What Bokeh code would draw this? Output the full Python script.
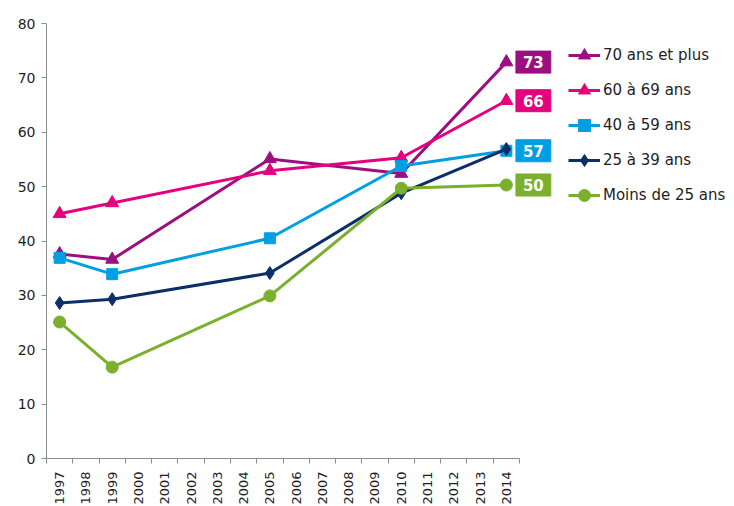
import math
from bokeh.plotting import figure
from bokeh.models import (Range1d, LinearAxis, FixedTicker, Legend, LegendItem, Label)
from bokeh.embed import file_html
from bokeh.resources import INLINE

years = [str(y) for y in range(1997, 2015)]
data_years = ["1997", "1999", "2005", "2010", "2014"]

series_names = ["70 ans et plus", "60 à 69 ans", "40 à 59 ans", "25 à 39 ans", "Moins de 25 ans"]
v_70plus = [37.6, 36.6, 55.1, 52.4, 72.9]
v_60_69 = [45.0, 47.0, 52.9, 55.3, 65.8]
v_40_59 = [36.9, 33.9, 40.5, 53.8, 56.6]
v_25_39 = [28.6, 29.3, 34.1, 48.8, 56.9]
v_moins25 = [25.1, 16.8, 29.9, 49.7, 50.3]

label_texts = ["73", "66", "57", None, "50"]

y_ticks = [0, 10, 20, 30, 40, 50, 60, 70, 80]

colors = ["#9C0F80", "#E5007E", "#009FE3", "#0B2F66", "#7AB02C"]
markers = ["triangle", "triangle", "square", "diamond", "circle"]
msizes = [13, 13, 11, 13, 12]
values = [v_70plus, v_60_69, v_40_59, v_25_39, v_moins25]

FONT = "DejaVu Sans"
AXIS_COLOR = "#8C8C8C"
TEXT_COLOR = "#1E1E1E"

# layout: axis area is 473 px wide, frame continues to the right for legend/labels
AXIS_W = 473
FRAME_W = 688
FRAME_H = 435

cat_pos = list(range(len(years)))
data_x = [years.index(y) for y in data_years]
x_start = -0.5
x_axis_end = len(years) - 0.5
x_end = x_start + len(years) * FRAME_W / AXIS_W

p = figure(x_range=Range1d(x_start, x_end),
           y_range=Range1d(0, 80),
           frame_width=FRAME_W, frame_height=FRAME_H,
           min_border_left=46, min_border_top=23, min_border_right=0, min_border_bottom=0,
           output_backend="svg", toolbar_location=None,
           x_axis_location=None, y_axis_location=None)
p.outline_line_color = None
p.xgrid.visible = False
p.ygrid.visible = False
p.background_fill_color = "white"
p.border_fill_color = "white"

# Y axis
yax = LinearAxis(ticker=FixedTicker(ticks=y_ticks))
yax.axis_line_color = AXIS_COLOR
yax.major_tick_line_color = AXIS_COLOR
yax.major_tick_out = 5
yax.major_tick_in = 0
yax.minor_tick_out = 0
yax.minor_tick_in = 0
yax.major_label_standoff = 6
yax.major_label_text_font = FONT
yax.major_label_text_font_size = "14px"
yax.major_label_text_color = TEXT_COLOR
p.add_layout(yax, "left")

# X axis: labels at category centres, ticks on category boundaries
xax = LinearAxis(ticker=FixedTicker(ticks=cat_pos,
                                    minor_ticks=[c - 0.5 for c in cat_pos] + [cat_pos[-1] + 0.5]),
                 bounds=(x_start, x_axis_end))
xax.major_label_overrides = {c: y for c, y in zip(cat_pos, years)}
xax.axis_line_color = AXIS_COLOR
xax.major_tick_out = 0
xax.major_tick_in = 0
xax.minor_tick_line_color = AXIS_COLOR
xax.minor_tick_out = 5
xax.minor_tick_in = 0
xax.major_label_orientation = math.pi / 2
xax.major_label_standoff = 8
xax.major_label_text_font = FONT
xax.major_label_text_font_size = "13px"
xax.major_label_text_color = TEXT_COLOR
p.add_layout(xax, "below")

items = []
for name, vals, col, mk, ms in zip(series_names, values, colors, markers, msizes):
    ln = p.line(data_x, vals, line_color=col, line_width=3)
    sc = p.scatter(data_x, vals, marker=mk, size=ms, fill_color=col, line_color=col)
    items.append(LegendItem(label=name, renderers=[ln, sc]))

# value boxes next to the last point
for txt, vals, col in zip(label_texts, values, colors):
    if txt is None:
        continue
    kw = dict(x=data_x[-1], y=vals[-1], x_offset=27, text=txt,
              text_align="center", text_baseline="middle",
              text_font=FONT, text_font_style="bold", text_font_size="15px",
              text_color="white", background_fill_color=col,
              border_line_color=col)
    try:
        lab = Label(padding=dict(left=7, right=7, top=5, bottom=5), **kw)
    except Exception:
        lab = Label(**kw)
    p.add_layout(lab)

legend = Legend(items=items, location=(522, 248))
legend.margin = 0
legend.padding = 0
legend.spacing = 5
legend.glyph_width = 32
legend.glyph_height = 30
legend.label_height = 30
legend.label_standoff = 3
legend.label_text_font = FONT
legend.label_text_font_size = "15px"
legend.label_text_color = TEXT_COLOR
legend.background_fill_alpha = 0
legend.border_line_color = None
p.add_layout(legend, "center")

open("out.html", "w").write(file_html(p, INLINE))
